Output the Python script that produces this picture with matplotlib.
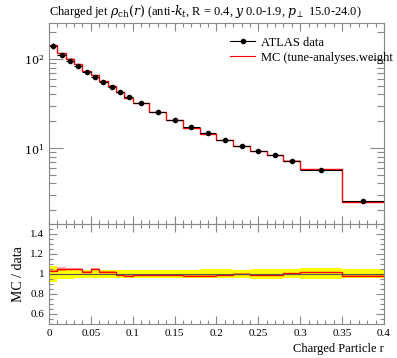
import numpy as np
import matplotlib.pyplot as plt
from matplotlib.lines import Line2D
from matplotlib.ticker import MultipleLocator, FixedLocator, NullFormatter

plt.rcParams['font.family'] = ['Liberation Serif', 'DejaVu Serif']
plt.rcParams['mathtext.fontset'] = 'dejavuserif'

# bin edges in r
bin_edges = [0.0, 0.01, 0.02, 0.03, 0.04, 0.05, 0.06, 0.07, 0.08, 0.09, 0.10,
             0.12, 0.14, 0.16, 0.18, 0.20, 0.22, 0.24, 0.26, 0.28, 0.30,
             0.35, 0.40]
data_vals = [140, 110, 96, 83, 71, 63, 55, 49, 43, 37.4, 32.3,
             25.6, 20.8, 17.2, 14.8, 12.3, 10.5, 9.3, 8.4, 7.15, 5.7, 2.55]
data_relerr = [0.08, 0.05, 0.05, 0.045, 0.04, 0.04, 0.04, 0.04, 0.04, 0.04, 0.04,
               0.04, 0.04, 0.04, 0.045, 0.045, 0.04, 0.05, 0.05, 0.045, 0.055, 0.045]
mc_vals = [144, 115.5, 101, 87, 72.5, 66, 56, 50, 42.5, 36.7, 32.0,
           25.3, 20.6, 16.9, 14.5, 12.2, 10.5, 9.2, 8.3, 7.2, 5.8, 2.5]
mc_relerr = [0.01, 0.02, 0.01, 0.008, 0.008, 0.01, 0.008, 0.008, 0.008, 0.008, 0.006,
             0.006, 0.006, 0.006, 0.006, 0.006, 0.006, 0.006, 0.006, 0.006, 0.006, 0.008]

edges = np.array(bin_edges)
data = np.array(data_vals)
derr = data * np.array(data_relerr)
mc = np.array(mc_vals)
merr = mc * np.array(mc_relerr)
centers = 0.5 * (edges[:-1] + edges[1:])
halfw = 0.5 * np.diff(edges)

gray = '#888888'
fig = plt.figure(figsize=(3.97, 3.58), dpi=100)
ax = fig.add_axes([0.1234, 0.3743, 0.8438, 0.5615])
rax = fig.add_axes([0.1234, 0.095, 0.8438, 0.2793], sharex=ax)

# main panel
ax.stairs(mc + merr, edges, baseline=mc - merr, fill=True, color='#ff0000', alpha=0.35, lw=0)
ax.errorbar(centers, data, xerr=halfw, yerr=derr, fmt='o', color='black',
            ms=3, lw=0.8, capsize=0)
ax.stairs(mc, edges, baseline=None, color='red', lw=1.0)
ax.set_yscale('log')
ax.set_xlim(0, 0.4)
ax.set_ylim(1.4, 254)
ax.set_yticks([10, 100])
ax.set_yticklabels([r'$10^1$', r'$10^2$'])
ax.yaxis.set_minor_formatter(NullFormatter())
ax.tick_params(labelbottom=False)
ax.set_title(r'Charged jet $\rho_{\mathrm{ch}}(r)$ (anti-$k_t$, R = 0.4, $y$ 0.0-1.9, $p_\perp$ 15.0-24.0)',
             fontsize=9, loc='left', pad=6)
handles = [Line2D([], [], color='black', marker='o', ms=3, lw=0.8),
           Line2D([], [], color='red', lw=0.8)]
ax.legend(handles, ['ATLAS data', 'MC (tune-analyses.weight'], loc='upper left',
          bbox_to_anchor=(0.5, 1.0), frameon=False, fontsize=9, handlelength=2.0,
          handletextpad=0.5, borderaxespad=0.9, borderpad=0.2, labelspacing=0.25)

# ratio panel
ratio_err = np.array(data_relerr)
rax.stairs(1 + ratio_err, edges, baseline=1 - ratio_err, fill=True, color='#ffff00', lw=0)
rax.axhline(1.0, color='#555555', lw=0.8)
rax.stairs((mc + merr) / data, edges, baseline=(mc - merr) / data, fill=True,
           color='#ff0000', alpha=0.35, lw=0)
rax.stairs(mc / data, edges, baseline=None, color='red', lw=1.0)
rax.set_ylim(0.5, 1.5)
rax.yaxis.set_major_locator(FixedLocator([0.6, 0.8, 1.0, 1.2, 1.4]))
rax.set_yticklabels(['0.6', '0.8', '1', '1.2', '1.4'])
rax.yaxis.set_minor_locator(MultipleLocator(0.05))
rax.xaxis.set_minor_locator(MultipleLocator(0.01))
rax.set_xticks(np.arange(0, 0.41, 0.05))
rax.set_xticklabels(['0', '0.05', '0.1', '0.15', '0.2', '0.25', '0.3', '0.35', '0.4'])
rax.set_ylabel('MC / data', fontsize=10)
rax.set_xlabel('Charged Particle r', fontsize=9, loc='right')

for a in (ax, rax):
    for s in a.spines.values():
        s.set_color(gray)
        s.set_linewidth(0.8)
    a.tick_params(which='both', direction='in', top=True, right=True, colors=gray,
                  labelcolor='black', labelsize=8, width=0.8)
    a.tick_params(which='major', length=6)
    a.tick_params(which='minor', length=3)
ax.tick_params(axis='y', which='major', length=10)
ax.tick_params(axis='y', which='minor', length=5)

fig.savefig('out.png', dpi=100)
